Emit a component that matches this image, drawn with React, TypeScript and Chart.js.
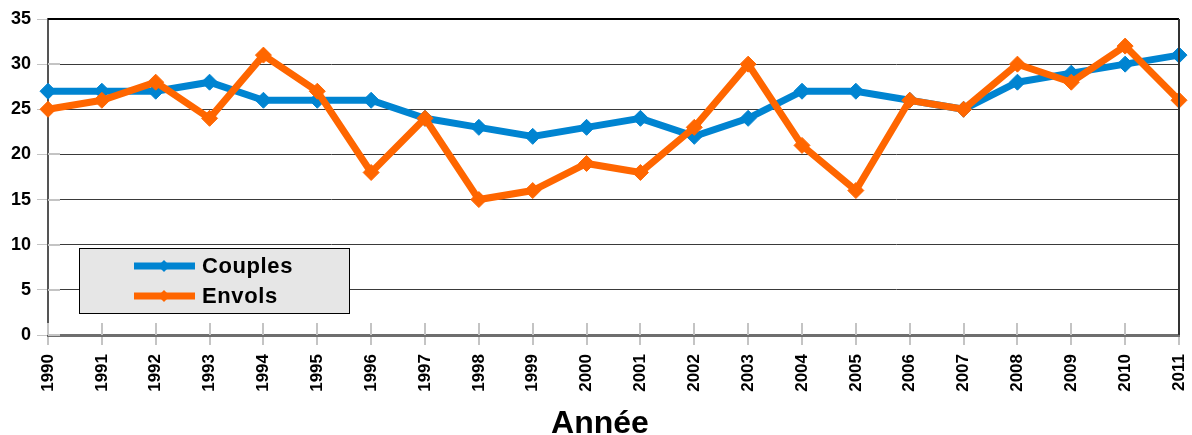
import React, { useEffect, useRef } from "react";
import { Chart, registerables } from "chart.js";

Chart.register(...registerables);

const years = ["1990","1991","1992","1993","1994","1995","1996","1997","1998","1999","2000","2001","2002","2003","2004","2005","2006","2007","2008","2009","2010","2011"];
const couples = [27,27,27,28,26,26,26,24,23,22,23,24,22,24,27,27,26,25,28,29,30,31];
const envols = [25,26,28,24,31,27,18,24,15,16,19,18,23,30,21,16,26,25,30,28,32,26];
const seriesNames = ["Couples", "Envols"];
const axisTitle = "Année";

const BLUE = "#0084d1";
const ORANGE = "#ff6600";
const FONT = "'Liberation Sans', Arial, sans-serif";

const framePlugin = {
  id: "frameAndLegend",
  beforeDatasetsDraw(chart: any) {
    const { ctx, chartArea } = chart;
    const xs = chart.scales.x;
    const ys = chart.scales.y;
    ctx.save();
    ctx.strokeStyle = "#c4c4c4";
    ctx.lineWidth = 2;
    for (let i = 0; i < xs.ticks.length; i++) {
      const px = Math.round(xs.getPixelForTick(i));
      ctx.beginPath();
      ctx.moveTo(px, chartArea.bottom - 12);
      ctx.lineTo(px, chartArea.bottom);
      ctx.stroke();
    }
    for (let i = 0; i < ys.ticks.length; i++) {
      const py = Math.round(ys.getPixelForTick(i));
      ctx.beginPath();
      ctx.moveTo(chartArea.left, py);
      ctx.lineTo(chartArea.left + 12, py);
      ctx.stroke();
    }
    ctx.restore();
  },
  afterDraw(chart: any) {
    const { ctx, chartArea } = chart;
    ctx.save();
    ctx.strokeStyle = "#000";
    ctx.lineWidth = 2;
    ctx.beginPath();
    ctx.moveTo(chartArea.left, chartArea.top);
    ctx.lineTo(chartArea.right, chartArea.top);
    ctx.stroke();
    ctx.strokeStyle = "#333";
    ctx.beginPath();
    ctx.moveTo(chartArea.right, chartArea.top);
    ctx.lineTo(chartArea.right, chartArea.bottom);
    ctx.stroke();

    // axis title
    ctx.fillStyle = "#000";
    ctx.font = `bold 32px ${FONT}`;
    ctx.textAlign = "center";
    ctx.textBaseline = "alphabetic";
    ctx.fillText(axisTitle, chart.width / 2 + 4, chart.height - 2);

    // legend box
    const bx = chartArea.left + 31;
    const by = chartArea.top + 229;
    const bw = 270;
    const bh = 65;
    ctx.fillStyle = "#e6e6e6";
    ctx.fillRect(bx, by, bw, bh);
    ctx.strokeStyle = "#000";
    ctx.lineWidth = 1;
    ctx.strokeRect(bx + 0.5, by + 0.5, bw, bh);
    const colors = [BLUE, ORANGE];
    seriesNames.forEach((name, i) => {
      const cy = by + 18 + i * 30;
      ctx.strokeStyle = colors[i];
      ctx.lineWidth = 7;
      ctx.beginPath();
      ctx.moveTo(bx + 55, cy);
      ctx.lineTo(bx + 116, cy);
      ctx.stroke();
      ctx.fillStyle = colors[i];
      const mx = bx + 85;
      const r = 6;
      ctx.beginPath();
      ctx.moveTo(mx, cy - r);
      ctx.lineTo(mx + r, cy);
      ctx.lineTo(mx, cy + r);
      ctx.lineTo(mx - r, cy);
      ctx.closePath();
      ctx.fill();
      ctx.fillStyle = "#000";
      ctx.font = `bold 22px ${FONT}`;
      (ctx as any).letterSpacing = "0.6px";
      ctx.textBaseline = "middle";
      ctx.textAlign = "left";
      ctx.fillText(name, bx + 123, cy + 1);
      (ctx as any).letterSpacing = "0px";
    });
    ctx.restore();
  },
};

export default function App() {
  const ref = useRef<HTMLCanvasElement>(null);
  useEffect(() => {
    if (!ref.current) return;
    const chart = new Chart(ref.current, {
      type: "line",
      data: {
        labels: years,
        datasets: [
          {
            label: seriesNames[0],
            data: couples,
            borderColor: BLUE,
            backgroundColor: BLUE,
            borderWidth: 7,
            pointStyle: "rectRot",
            pointRadius: 8,
            pointBorderWidth: 1,
            pointBackgroundColor: BLUE,
            pointBorderColor: BLUE,
            tension: 0,
            order: 2,
            clip: false,
          },
          {
            label: seriesNames[1],
            data: envols,
            borderColor: ORANGE,
            backgroundColor: ORANGE,
            borderWidth: 7,
            pointStyle: "rectRot",
            pointRadius: 8,
            pointBorderWidth: 1,
            pointBackgroundColor: ORANGE,
            pointBorderColor: ORANGE,
            tension: 0,
            order: 1,
            clip: false,
          },
        ],
      },
      options: {
        responsive: false,
        animation: false,
        layout: { padding: { left: 0, top: 19, right: 13, bottom: 0 } },
        plugins: {
          legend: { display: false },
          tooltip: { enabled: false },
        },
        scales: {
          x: {
            offset: false,
            afterFit: (s: any) => { s.height = 100; s.paddingRight = 0; s.paddingLeft = 0; },
            grid: { drawOnChartArea: false, tickLength: 10, tickColor: "#c4c4c4", lineWidth: 2 },
            border: { color: "#6e6e6e", width: 3 },
            ticks: {
              autoSkip: false,
              minRotation: 90,
              maxRotation: 90,
              padding: 9,
              color: "#000",
              font: { family: FONT, size: 17, weight: "bold" },
            },
          },
          y: {
            min: 0,
            max: 35,
            afterFit: (s: any) => { s.width = 48; s.paddingTop = 0; s.paddingBottom = 0; },
            grid: { color: "#3a3a3a", lineWidth: 1, tickLength: 11, tickColor: "#c4c4c4" },
            border: { color: "#555", width: 2 },
            ticks: {
              stepSize: 5,
              padding: 6,
              color: "#000",
              font: { family: FONT, size: 18, weight: "bold" },
            },
          },
        },
      },
      plugins: [framePlugin],
    });
    return () => chart.destroy();
  }, []);
  return (
    <div style={{ position: "absolute", left: 0, top: 0, width: 1192, height: 435, background: "#fff" }}>
      <canvas ref={ref} width={1192} height={435} style={{ display: "block" }} />
    </div>
  );
}
